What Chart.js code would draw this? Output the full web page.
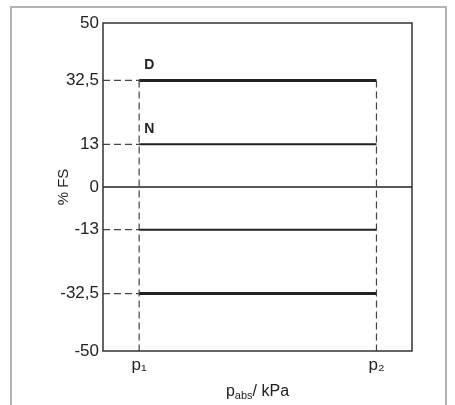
<!DOCTYPE html>
<html>
<head>
<meta charset="utf-8">
<script src="https://cdn.jsdelivr.net/npm/chart.js@4/dist/chart.umd.min.js"></script>
<style>
  body { margin: 0; background: #fff; }
  #wrap { width: 455px; height: 405px; }
</style>
</head>
<body>
<div id="wrap"><canvas id="myChart" width="455" height="405"></canvas></div>
<script>
// data
const xRange = [0, 100]
const pPositions = [11.7, 88.5]          // p1, p2
const pLabels = ['p\u2081', 'p\u2082']
const yTicks = [50, 32.5, 13, 0, -13, -32.5, -50]
const levels = [32.5, 13, -13, -32.5]     // limit lines between p1 and p2
const levelNames = ['D', 'N', '', '']
const levelWidths = [3, 2, 2, 3]

const ink = '#222'
const dashGray = '#444'
const font = '"Liberation Sans", Arial, sans-serif'

const datasets = []

// dashed guides from the y axis to p1
levels.forEach(v => {
  datasets.push({
    data: [{ x: xRange[0], y: v }, { x: pPositions[0], y: v }],
    borderColor: dashGray, borderWidth: 1.2, borderDash: [7, 4]
  })
})

// dashed verticals at p1 and p2
pPositions.forEach(p => {
  datasets.push({
    data: [{ x: p, y: levels[0] }, { x: p, y: yTicks[yTicks.length - 1] }],
    borderColor: dashGray, borderWidth: 1.2, borderDash: [7, 4]
  })
})

// zero line
datasets.push({
  data: [{ x: xRange[0], y: 0 }, { x: xRange[1], y: 0 }],
  borderColor: '#222', borderWidth: 1.5
})

// solid limit lines
levels.forEach((v, i) => {
  datasets.push({
    data: [{ x: pPositions[0], y: v }, { x: pPositions[1], y: v }],
    borderColor: ink, borderWidth: levelWidths[i]
  })
})

// outer frame, plot box, D/N labels and x title
const extras = {
  id: 'extras',
  beforeDraw(chart) {
    const c = chart.ctx
    c.save()
    c.strokeStyle = '#b3b3b3'
    c.lineWidth = 2
    c.strokeRect(11, 7, 435, 430)
    c.restore()
  },
  afterDraw(chart) {
    const c = chart.ctx
    const a = chart.chartArea
    const xs = chart.scales.x
    const ys = chart.scales.y
    c.save()
    c.strokeStyle = '#333'
    c.lineWidth = 1.5
    c.strokeRect(a.left, a.top, a.right - a.left, a.bottom - a.top)

    c.fillStyle = ink
    c.font = 'bold 14px ' + font
    c.textAlign = 'left'
    c.textBaseline = 'alphabetic'
    levels.forEach((v, i) => {
      if (!levelNames[i]) return
      c.fillText(levelNames[i], xs.getPixelForValue(pPositions[0]) + 5, ys.getPixelForValue(v) - 11)
    })

    // x title: p_abs / kPa
    const big = '16px ' + font
    const small = '11px ' + font
    const parts = [['p', big, 0], ['abs', small, 3], ['/ kPa', big, 0]]
    let w = 0
    parts.forEach(pt => { c.font = pt[1]; w += c.measureText(pt[0]).width })
    let x = (a.left + a.right) / 2 - w / 2
    const base = 396
    parts.forEach(pt => {
      c.font = pt[1]
      c.fillText(pt[0], x, base + pt[2])
      x += c.measureText(pt[0]).width
    })
    c.restore()
  }
}

const ctx = document.getElementById('myChart').getContext('2d')

const myChart = new Chart(ctx, {
  type: 'line',
  data: { datasets },
  options: {
    responsive: false,
    animation: false,
    layout: { padding: { top: 23, right: 43, left: 0, bottom: 0 } },
    elements: { point: { radius: 0 }, line: { tension: 0 } },
    plugins: { legend: { display: false }, tooltip: { enabled: false } },
    scales: {
      x: {
        type: 'linear',
        min: xRange[0],
        max: xRange[1],
        grid: { display: false, drawTicks: false },
        border: { display: false },
        afterBuildTicks: s => { s.ticks = pPositions.map(v => ({ value: v })) },
        afterFit: s => { s.height = 54 },
        ticks: {
          padding: 4,
          color: ink,
          font: { family: font, size: 17 },
          autoSkip: false,
          maxRotation: 0,
          callback: v => pLabels[pPositions.indexOf(v)]
        }
      },
      y: {
        min: -50,
        max: 50,
        grid: { display: false, drawTicks: false },
        border: { display: false },
        afterBuildTicks: s => { s.ticks = yTicks.map(v => ({ value: v })) },
        afterFit: s => { s.width = 103 },
        ticks: {
          padding: 4,
          color: ink,
          font: { family: font, size: 17 },
          autoSkip: false,
          callback: v => String(v).replace('.', ',')
        },
        title: {
          display: true,
          text: '% FS',
          color: ink,
          font: { family: font, size: 15 },
          padding: { top: 55, bottom: 0 }
        }
      }
    }
  },
  plugins: [extras]
})
</script>
</body>
</html>
